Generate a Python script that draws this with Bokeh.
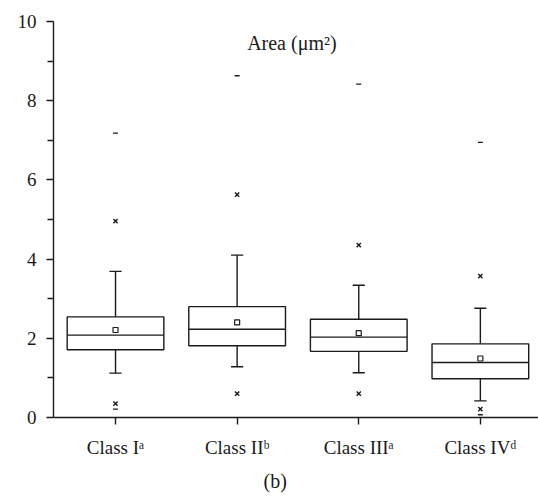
from bokeh.plotting import figure
from bokeh.models import FixedTicker, Label, Range1d, ColumnDataSource, Title
from bokeh.embed import file_html
from bokeh.resources import INLINE

# ---- data ----
categories = ["Class I\u1d43", "Class II\u1d47", "Class III\u1d43", "Class IV\u1d48"]
positions = [1, 2, 3, 4]
q1 = [1.71, 1.81, 1.67, 0.98]
median = [2.08, 2.23, 2.03, 1.39]
q3 = [2.54, 2.80, 2.48, 1.86]
whisker_low = [1.12, 1.28, 1.13, 0.42]
whisker_high = [3.69, 4.10, 3.34, 2.76]
mean = [2.21, 2.40, 2.13, 1.49]
pct_low = [0.35, 0.60, 0.60, 0.21]     # 1st percentile (x markers)
pct_high = [4.96, 5.63, 4.35, 3.57]    # 99th percentile (x markers)
min_val = [0.21, None, None, 0.07]     # minimum (dash)
max_val = [7.18, 8.63, 8.42, 6.95]     # maximum (dash)
y_ticks = [0, 2, 4, 6, 8, 10]
y_minor = [1, 3, 5, 7, 9]

INK = "#1a1a1a"
FONT = "Liberation Serif"
BOXW = 0.795
CAPW = 0.1

p = figure(width=538, height=498, output_backend="svg", toolbar_location=None,
           x_range=Range1d(0.49, 4.478), y_range=Range1d(0, 10),
           min_border_left=53, min_border_right=0, min_border_top=21, min_border_bottom=80)
p.outline_line_color = None
p.xgrid.visible = False
p.ygrid.visible = False
p.background_fill_color = "white"

src = ColumnDataSource(dict(x=positions, q1=q1, med=median, q3=q3, lo=whisker_low, hi=whisker_high,
                            mean=mean, pl=pct_low, ph=pct_high))

# whiskers
p.segment(x0="x", y0="q3", x1="x", y1="hi", source=src, line_color=INK, line_width=1.4)
p.segment(x0="x", y0="lo", x1="x", y1="q1", source=src, line_color=INK, line_width=1.4)
# caps
cap_x0 = [x - CAPW / 2 for x in positions]
cap_x1 = [x + CAPW / 2 for x in positions]
p.segment(x0=cap_x0, y0=whisker_high, x1=cap_x1, y1=whisker_high, line_color=INK, line_width=1.4)
p.segment(x0=cap_x0, y0=whisker_low, x1=cap_x1, y1=whisker_low, line_color=INK, line_width=1.4)
# boxes
p.vbar(x="x", width=BOXW, bottom="q1", top="q3", source=src, fill_color="white",
       line_color=INK, line_width=1.4)
# medians
box_x0 = [x - BOXW / 2 for x in positions]
box_x1 = [x + BOXW / 2 for x in positions]
p.segment(x0=box_x0, y0=median, x1=box_x1, y1=median, line_color=INK, line_width=1.4)
# means
p.scatter(x="x", y="mean", source=src, marker="square", size=5, fill_color="white",
          line_color=INK, line_width=1.2)
# percentiles
p.scatter(x="x", y="pl", source=src, marker="x", size=6, line_color=INK, line_width=1.4)
p.scatter(x="x", y="ph", source=src, marker="x", size=6, line_color=INK, line_width=1.4)
# min / max
mx = [x for x, v in zip(positions, min_val) if v is not None]
mv = [v for v in min_val if v is not None]
p.scatter(x=mx, y=mv, marker="dash", size=5, line_color=INK, line_width=1.3)
p.scatter(x=positions, y=max_val, marker="dash", size=5, line_color=INK, line_width=1.3)

# axes
p.xaxis.ticker = FixedTicker(ticks=positions)
p.xaxis.major_label_overrides = {pos: lab for pos, lab in zip(positions, categories)}
p.yaxis.ticker = FixedTicker(ticks=y_ticks, minor_ticks=y_minor)
for ax in (p.xaxis, p.yaxis):
    ax.axis_line_color = INK
    ax.axis_line_width = 1.4
    ax.major_tick_line_color = INK
    ax.major_tick_line_width = 1.4
    ax.major_tick_out = 7
    ax.major_tick_in = 0
    ax.major_label_text_font = FONT
    ax.major_label_text_color = INK
p.xaxis.minor_tick_line_color = None
p.yaxis.minor_tick_line_color = INK
p.yaxis.minor_tick_line_width = 1.4
p.yaxis.minor_tick_out = 6
p.yaxis.minor_tick_in = 0
p.yaxis.major_label_text_font_size = "19px"
p.yaxis.major_label_standoff = 10
p.xaxis.major_label_text_font_size = "19px"
p.xaxis.major_label_standoff = 12

p.add_layout(Label(x=2.45, y=9.46, text="Area (\u03bcm\u00b2)", text_align="center",
                   text_baseline="middle", text_font=FONT, text_font_size="20px",
                   text_color=INK))
p.add_layout(Title(text="(b)", align="left", offset=210, standoff=14, vertical_align="bottom",
                   text_font=FONT, text_font_style="normal", text_font_size="20px",
                   text_line_height=0.9, text_color=INK), "below")

open("out.html", "w").write(file_html(p, INLINE))
